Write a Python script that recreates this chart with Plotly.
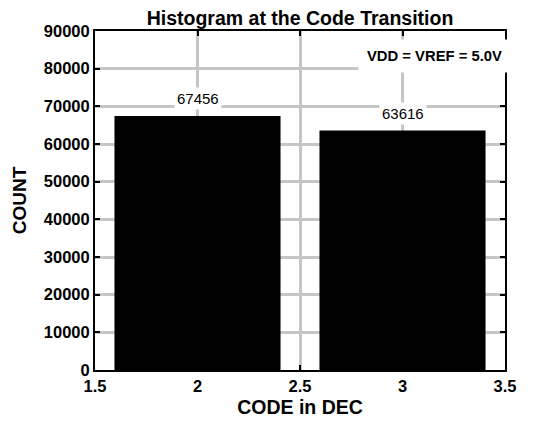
import plotly.graph_objects as go

codes = [2, 3]
counts = [67456, 63616]
count_labels = ["67456", "63616"]
note = "VDD = VREF = 5.0V"

FONT = "Arial, Liberation Sans, sans-serif"

fig = go.Figure()
fig.add_trace(go.Bar(x=codes, y=counts, width=0.81, marker=dict(color="black", line=dict(width=0)),
                     hoverinfo="x+y"))

# value labels above bars, white box so the grid gets cut like in the original
for c, v, t in zip(codes, counts, count_labels):
    fig.add_annotation(x=c, y=v, text=t, showarrow=False, yshift=17, bgcolor="white",
                       borderpad=2, font=dict(family=FONT, size=15, color="black"))

fig.add_annotation(x=3.155, y=83300, text="<b>" + note + "</b>", showarrow=False,
                   bgcolor="white", borderpad=8, font=dict(family=FONT, size=14.8, color="black"))

axis_common = dict(showline=True, linewidth=2, linecolor="black", mirror="ticks",
                   ticks="inside", ticklen=5, tickwidth=2, tickcolor="black",
                   showgrid=True, gridcolor="#c6c6c6", gridwidth=2.5, zeroline=False,
                   automargin=False,
                   tickfont=dict(family=FONT, size=16.5, color="black"))

fig.update_xaxes(range=[1.5, 3.5], tickvals=[1.5, 2, 2.5, 3, 3.5],
                 ticktext=["<b>1.5</b>", "<b>2</b>", "<b>2.5</b>", "<b>3</b>", "<b>3.5</b>"],
                 title=dict(text="<b>CODE in DEC</b>", font=dict(family=FONT, size=19.5, color="black"), standoff=7),
                 **axis_common)
yt = list(range(0, 90001, 10000))
fig.update_yaxes(range=[0, 90000], tickvals=yt, ticktext=["<b>%d</b>" % v for v in yt],
                 title=dict(text="<b>COUNT</b>", font=dict(family=FONT, size=19, color="black"), standoff=12),
                 **axis_common)

# the page draws the figure 8px right and down, so the margins are shifted by that
fig.update_layout(
    width=539, height=423,
    margin=dict(l=87, r=42, t=23, b=61),
    plot_bgcolor="white", paper_bgcolor="white",
    showlegend=False,
    title=dict(text="<b>Histogram at the Code Transition</b>", x=0.5, xref="paper", xanchor="center",
               y=0.976, yref="container", yanchor="middle", font=dict(family=FONT, size=19.5, color="black")),
)

fig.write_html("out.html")
